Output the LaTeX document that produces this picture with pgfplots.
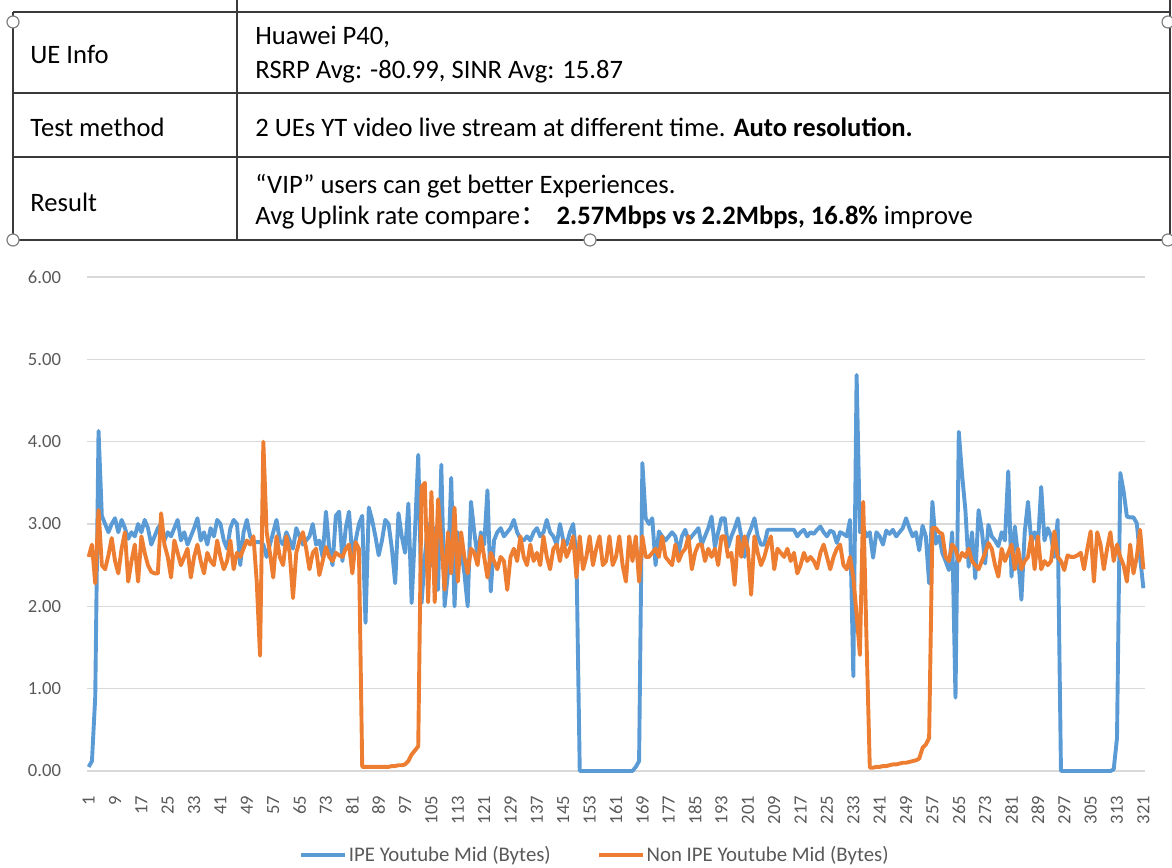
\documentclass[border=0pt]{standalone}
\usepackage{fontspec}
\setmainfont{Carlito}
\newfontfamily\cjk{Noto Sans CJK SC}
\usepackage{pgfplots}
\usepackage{pgfplotstable}
\pgfplotsset{compat=1.18}
\definecolor{ipeblue}{HTML}{5B9BD5}
\definecolor{nonorange}{HTML}{ED7D31}
\definecolor{gridgray}{HTML}{D9D9D9}
\definecolor{ticklab}{HTML}{595959}
\definecolor{tabline}{HTML}{3A3A3A}

\pgfplotstableread[row sep=\\, header=false]{
0.05\\ 0.12\\ 0.90\\ 4.13\\ 3.10\\ 3.00\\ 2.90\\ 3.00\\ 3.07\\ 2.90\\
3.05\\ 2.95\\ 2.82\\ 2.90\\ 2.85\\ 3.00\\ 2.90\\ 3.05\\ 2.95\\ 2.75\\
2.85\\ 2.95\\ 3.00\\ 2.80\\ 2.90\\ 2.85\\ 2.95\\ 3.05\\ 2.80\\ 2.90\\
2.75\\ 2.85\\ 2.95\\ 3.07\\ 2.80\\ 2.90\\ 2.75\\ 2.95\\ 2.85\\ 3.05\\
3.00\\ 2.80\\ 2.70\\ 2.95\\ 3.05\\ 3.00\\ 2.50\\ 2.90\\ 3.05\\ 2.85\\
2.78\\ 2.78\\ 2.78\\ 2.75\\ 2.60\\ 2.75\\ 2.90\\ 3.05\\ 2.80\\ 2.75\\
2.90\\ 2.80\\ 2.70\\ 2.95\\ 2.85\\ 2.75\\ 2.80\\ 2.85\\ 3.00\\ 2.75\\
2.80\\ 2.60\\ 3.15\\ 2.70\\ 2.50\\ 3.10\\ 3.15\\ 2.55\\ 2.95\\ 3.15\\
2.60\\ 2.80\\ 3.00\\ 3.10\\ 1.80\\ 3.20\\ 3.05\\ 2.85\\ 2.62\\ 2.80\\
3.05\\ 3.00\\ 2.70\\ 2.28\\ 3.13\\ 2.85\\ 2.65\\ 3.25\\ 2.04\\ 2.90\\
3.84\\ 2.04\\ 2.60\\ 3.00\\ 2.50\\ 2.95\\ 2.20\\ 3.72\\ 2.00\\ 2.40\\
3.56\\ 2.00\\ 2.90\\ 2.70\\ 2.40\\ 2.00\\ 3.27\\ 2.90\\ 2.60\\ 2.90\\
2.75\\ 3.41\\ 2.18\\ 2.80\\ 2.90\\ 2.95\\ 2.85\\ 2.90\\ 2.95\\ 3.05\\
2.90\\ 2.82\\ 2.80\\ 2.85\\ 2.80\\ 2.90\\ 2.95\\ 2.85\\ 2.90\\ 3.05\\
2.90\\ 2.85\\ 2.75\\ 3.00\\ 2.80\\ 2.75\\ 2.90\\ 3.00\\ 2.60\\ 0.00\\
0\\ 0\\ 0\\ 0\\ 0\\ 0\\ 0\\ 0\\ 0\\ 0\\
0\\ 0\\ 0\\ 0\\ 0\\ 0\\ 0.05\\ 0.12\\ 3.74\\ 3.07\\
3.00\\ 3.07\\ 2.50\\ 2.91\\ 2.85\\ 2.80\\ 2.85\\ 2.90\\ 2.85\\ 2.65\\
2.85\\ 2.93\\ 2.80\\ 2.85\\ 2.90\\ 2.95\\ 2.75\\ 2.85\\ 2.95\\ 3.09\\
2.72\\ 2.90\\ 3.07\\ 3.07\\ 2.72\\ 2.85\\ 2.95\\ 3.07\\ 2.85\\ 2.60\\
2.85\\ 2.95\\ 3.07\\ 2.85\\ 2.75\\ 2.75\\ 2.93\\ 2.93\\ 2.93\\ 2.93\\
2.93\\ 2.93\\ 2.93\\ 2.93\\ 2.93\\ 2.85\\ 2.90\\ 2.93\\ 2.85\\ 2.90\\
2.88\\ 2.93\\ 2.97\\ 2.90\\ 2.85\\ 2.92\\ 2.90\\ 2.77\\ 2.90\\ 2.88\\
2.85\\ 3.05\\ 1.15\\ 4.81\\ 2.90\\ 2.96\\ 2.85\\ 2.90\\ 2.59\\ 2.90\\
2.85\\ 2.75\\ 2.92\\ 2.88\\ 2.93\\ 2.85\\ 2.90\\ 2.95\\ 3.07\\ 2.95\\
2.85\\ 2.90\\ 2.68\\ 2.98\\ 2.85\\ 2.28\\ 3.27\\ 2.76\\ 2.85\\ 2.65\\
2.55\\ 2.44\\ 2.90\\ 0.89\\ 4.12\\ 3.60\\ 3.17\\ 2.48\\ 2.90\\ 2.34\\
3.17\\ 2.92\\ 2.52\\ 2.99\\ 2.85\\ 2.80\\ 2.73\\ 2.90\\ 2.80\\ 3.64\\
2.36\\ 2.97\\ 2.60\\ 2.08\\ 2.90\\ 3.27\\ 2.78\\ 2.90\\ 2.75\\ 3.45\\
2.80\\ 2.95\\ 2.85\\ 2.60\\ 3.05\\ 0\\ 0\\ 0\\ 0\\ 0\\
0\\ 0\\ 0\\ 0\\ 0\\ 0\\ 0\\ 0\\ 0\\ 0\\
0\\ 0.02\\ 0.40\\ 3.62\\ 3.40\\ 3.09\\ 3.08\\ 3.08\\ 3.01\\ 2.60\\ 2.22\\
}\ipedata

\pgfplotstableread[row sep=\\, header=false]{
2.60\\ 2.75\\ 2.28\\ 3.17\\ 2.50\\ 2.45\\ 2.62\\ 2.83\\ 2.55\\ 2.40\\
2.70\\ 2.90\\ 2.30\\ 2.55\\ 2.75\\ 2.30\\ 2.85\\ 2.65\\ 2.50\\ 2.42\\
2.40\\ 2.40\\ 3.13\\ 2.75\\ 2.60\\ 2.35\\ 2.80\\ 2.65\\ 2.50\\ 2.60\\
2.70\\ 2.35\\ 2.60\\ 2.75\\ 2.55\\ 2.40\\ 2.65\\ 2.55\\ 2.50\\ 2.80\\
2.60\\ 2.45\\ 2.55\\ 2.80\\ 2.45\\ 2.65\\ 2.60\\ 2.70\\ 2.80\\ 2.75\\
2.85\\ 2.30\\ 1.40\\ 4.00\\ 2.90\\ 2.65\\ 2.35\\ 2.85\\ 2.60\\ 2.50\\
2.85\\ 2.65\\ 2.10\\ 2.65\\ 2.80\\ 2.90\\ 2.70\\ 2.45\\ 2.65\\ 2.70\\
2.38\\ 2.55\\ 2.72\\ 2.60\\ 2.55\\ 2.65\\ 2.62\\ 2.60\\ 2.70\\ 2.75\\
2.40\\ 2.78\\ 2.70\\ 0.05\\ 0.05\\ 0.05\\ 0.05\\ 0.05\\ 0.05\\ 0.05\\
0.05\\ 0.05\\ 0.06\\ 0.06\\ 0.07\\ 0.07\\ 0.08\\ 0.12\\ 0.20\\ 0.25\\
0.30\\ 3.45\\ 3.50\\ 2.05\\ 3.39\\ 2.05\\ 3.30\\ 2.80\\ 2.20\\ 2.90\\
2.40\\ 3.20\\ 2.30\\ 2.90\\ 2.60\\ 2.40\\ 2.70\\ 2.65\\ 2.50\\ 2.85\\
2.60\\ 2.35\\ 2.65\\ 2.55\\ 2.45\\ 2.60\\ 2.55\\ 2.20\\ 2.60\\ 2.70\\
2.55\\ 2.85\\ 2.60\\ 2.50\\ 2.75\\ 2.55\\ 2.65\\ 2.50\\ 2.85\\ 2.60\\
2.45\\ 2.70\\ 2.75\\ 2.55\\ 2.80\\ 2.60\\ 2.70\\ 2.85\\ 2.35\\ 2.85\\
2.45\\ 2.60\\ 2.85\\ 2.50\\ 2.70\\ 2.85\\ 2.50\\ 2.55\\ 2.85\\ 2.50\\
2.60\\ 2.85\\ 2.50\\ 2.30\\ 2.85\\ 2.55\\ 2.85\\ 2.30\\ 2.85\\ 2.60\\
2.60\\ 2.65\\ 2.70\\ 2.60\\ 2.85\\ 2.60\\ 2.55\\ 2.50\\ 2.75\\ 2.55\\
2.65\\ 2.70\\ 2.85\\ 2.45\\ 2.65\\ 2.75\\ 2.75\\ 2.55\\ 2.70\\ 2.60\\
2.70\\ 2.50\\ 2.85\\ 2.85\\ 2.60\\ 2.65\\ 2.26\\ 2.85\\ 2.60\\ 2.85\\
2.70\\ 2.14\\ 2.85\\ 2.65\\ 2.50\\ 2.60\\ 2.75\\ 2.85\\ 2.45\\ 2.70\\
2.65\\ 2.60\\ 2.70\\ 2.55\\ 2.65\\ 2.40\\ 2.50\\ 2.65\\ 2.55\\ 2.60\\
2.55\\ 2.46\\ 2.65\\ 2.75\\ 2.60\\ 2.45\\ 2.60\\ 2.70\\ 2.75\\ 2.50\\
2.45\\ 2.60\\ 2.35\\ 1.90\\ 1.41\\ 3.27\\ 1.60\\ 0.04\\ 0.04\\ 0.05\\
0.05\\ 0.06\\ 0.06\\ 0.07\\ 0.08\\ 0.08\\ 0.09\\ 0.10\\ 0.10\\ 0.11\\
0.12\\ 0.13\\ 0.15\\ 0.28\\ 0.32\\ 0.40\\ 2.95\\ 2.95\\ 2.90\\ 2.88\\
2.60\\ 2.55\\ 2.75\\ 2.70\\ 2.55\\ 2.65\\ 2.60\\ 2.70\\ 2.55\\ 2.50\\
2.45\\ 2.55\\ 2.65\\ 2.77\\ 2.70\\ 2.50\\ 2.36\\ 2.70\\ 2.55\\ 2.65\\
2.75\\ 2.45\\ 2.70\\ 2.45\\ 2.55\\ 2.60\\ 2.85\\ 2.45\\ 2.85\\ 2.45\\
2.55\\ 2.50\\ 2.55\\ 2.91\\ 2.60\\ 2.55\\ 2.44\\ 2.62\\ 2.60\\ 2.60\\
2.62\\ 2.65\\ 2.45\\ 2.70\\ 2.91\\ 2.30\\ 2.90\\ 2.75\\ 2.45\\ 2.70\\
2.90\\ 2.55\\ 2.75\\ 2.60\\ 2.50\\ 2.30\\ 2.75\\ 2.40\\ 2.60\\ 2.93\\ 2.45\\
}\nonipedata

\begin{document}
\begin{tikzpicture}
\path[use as bounding box] (0,0) rectangle (586pt,433.5pt);

% ---------- table ----------
\begin{scope}[x=0.5pt,y=-0.5pt,yshift=433.5pt]
  \draw[tabline, line width=1.1pt] (237,0) -- (237,240);
  \draw[tabline, line width=1.1pt] (1170,0) -- (1170,240);
  \draw[tabline, line width=1.1pt] (13,12) -- (13,240);
  \draw[tabline, line width=1.1pt] (13,12) -- (1170,12);
  \draw[tabline, line width=1.1pt] (13,93) -- (1170,93);
  \draw[tabline, line width=1.1pt] (13,157) -- (1170,157);
  \draw[tabline, line width=1.4pt] (13,240) -- (1170,240);
  \begin{scope}[font=\fontsize{13.3}{15}\selectfont, inner sep=0pt]
    \node[anchor=west] at (30,54) {UE Info};
    \node[anchor=west] at (255,37) {Huawei P40,};
    \node[anchor=west] at (255,72) {RSRP Avg: -80.99, SINR Avg: 15.87};
    \node[anchor=west] at (30,127) {Test method};
    \node[anchor=west] at (255,127) {2 UEs YT video live stream at different time. \textbf{Auto resolution.}};
    \node[anchor=west] at (30,202) {Result};
    \node[anchor=west] at (255,186) {“VIP” users can get better Experiences.};
    \node[anchor=west] at (255,217) {Avg Uplink rate compare{\cjk ：}\hspace{5pt}\textbf{2.57Mbps vs 2.2Mbps, 16.8\%} improve};
  \end{scope}
  \foreach \cx/\cy in {13/22, 1168/22, 13/240, 590/240, 1168/240}
    \draw[gray, fill=white, line width=0.6pt] (\cx,\cy) circle (3pt);
\end{scope}

% ---------- chart ----------
\begin{axis}[
  at={(43.5pt,48pt)}, anchor=south west,
  width=529pt, height=247pt, scale only axis,
  xmin=0.5, xmax=321.5, ymin=0, ymax=6,
  xtick={1,9,...,321}, ytick={0,1,2,3,4,5,6},
  axis line style={draw=none}, major tick length=0pt,
  ymajorgrids, grid style={draw=gridgray, line width=0.7pt},
  /pgf/number format/assume math mode=true,
  tick label style={font=\fontsize{9.3}{11}\selectfont, text=ticklab},
  yticklabel style={/pgf/number format/.cd, fixed, fixed zerofill, precision=2},
  yticklabel shift=9.5pt,
  xticklabel style={rotate=90, anchor=east},
  xticklabel shift=9pt,
  clip=false,
  legend columns=2,
  legend style={draw=none, fill=none, at={(0.48,-0.17)}, anchor=center,
    font=\fontsize{10.4}{12}\selectfont, text=ticklab,
    nodes={inner xsep=1pt},
    /tikz/every even column/.append style={column sep=22pt}},
  legend image code/.code={\draw[#1] (0pt,0pt) -- (22pt,0pt);},
]
\addplot[ipeblue, line width=1.95pt, line join=round] table[x expr=\coordindex+1, y index=0] {\ipedata};
\addlegendentry{IPE Youtube Mid (Bytes)}
\addplot[nonorange, line width=1.95pt, line join=round] table[x expr=\coordindex+1, y index=0] {\nonipedata};
\addlegendentry{Non IPE Youtube Mid (Bytes)}
\end{axis}
\end{tikzpicture}
\end{document}
